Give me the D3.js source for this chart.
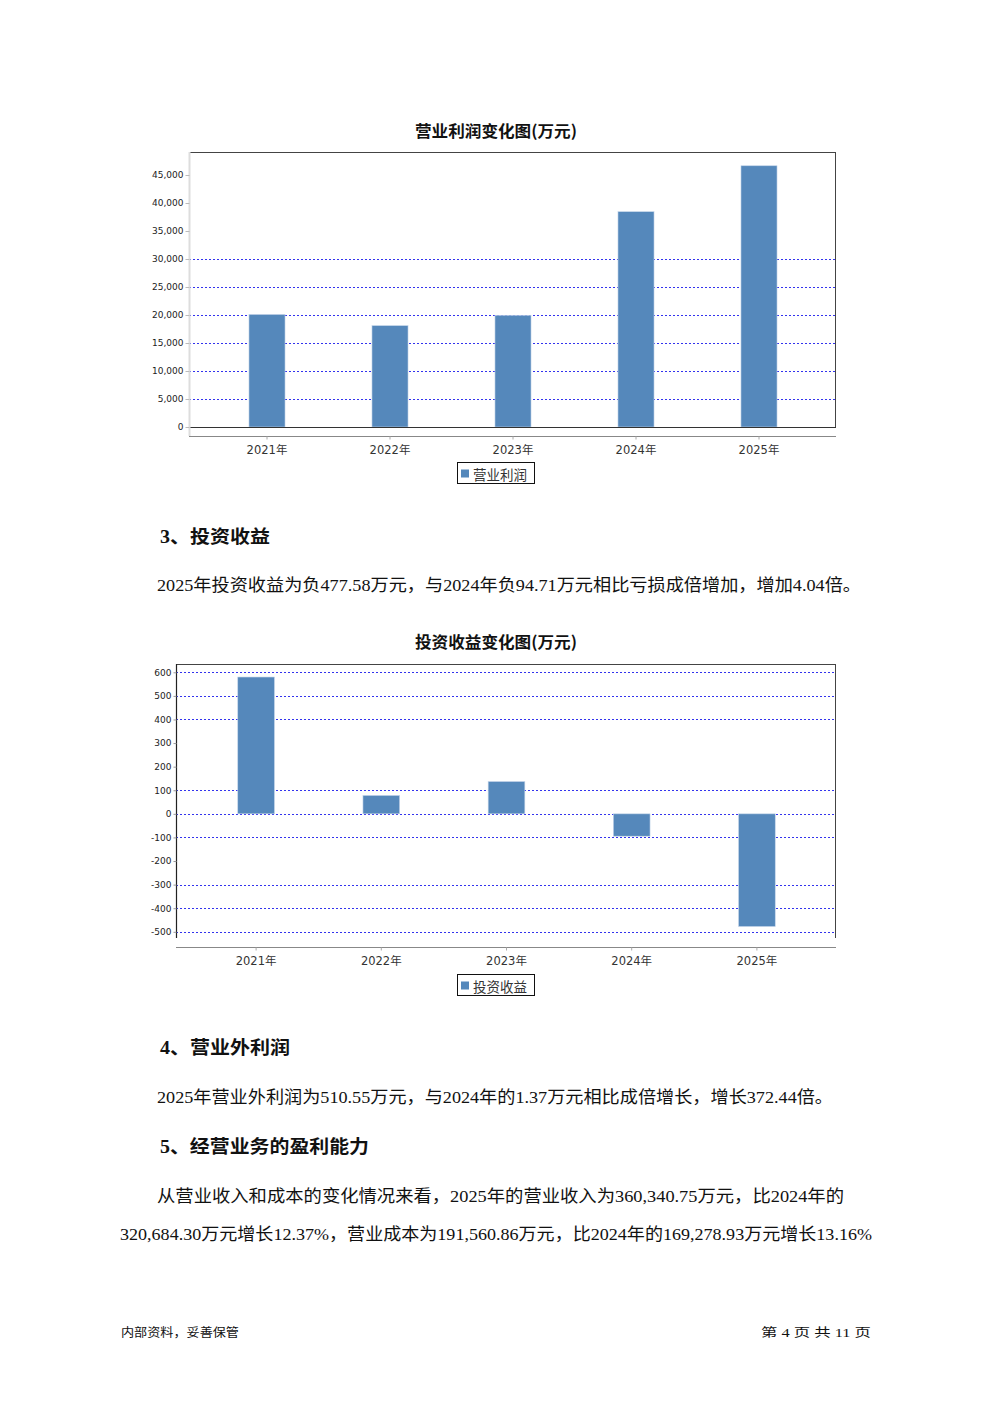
<!DOCTYPE html>
<html><head><meta charset="utf-8">
<script src="https://cdn.jsdelivr.net/npm/d3@7"></script>
<style>body{margin:0;background:#fff}svg{display:block}</style>
</head><body>
<script>
// ---- data ----
const years = ["2021年","2022年","2023年","2024年","2025年"];
const opProfit = [20100, 18100, 19950, 38450, 46650];
const opTicks = [0,5000,10000,15000,20000,25000,30000,35000,40000,45000];
const opGrid = [5000,10000,15000,20000,25000,30000];
const invIncome = [580, 78, 137, -94.71, -477.58];
const invTicks = [600,500,400,300,200,100,0,-100,-200,-300,-400,-500];
const invGrid = [600,500,400,100,0,-100,-300,-400,-500];
const chart1Title = "营业利润变化图(万元)";
const chart2Title = "投资收益变化图(万元)";
const legend1 = "营业利润";
const legend2 = "投资收益";

const W = 992, H = 1403;
const svg = d3.select("body").append("svg").attr("width", W).attr("height", H);
const barColor = "#5588bb";
const sansF = "'DejaVu Sans', 'Noto Sans CJK SC', sans-serif";
const cjkF = "'Noto Sans CJK SC', sans-serif";
const bodyF = "'Liberation Serif', 'Noto Sans CJK SC', serif";

function title(t, cx, cy){
  svg.append("text").attr("x", cx-81).attr("y", cy)
    .attr("dominant-baseline","central").attr("font-family", cjkF)
    .attr("font-weight","bold").attr("font-size",16).attr("fill","#111")
    .attr("textLength",162).attr("lengthAdjust","spacingAndGlyphs").text(t);
}
function legend(t, x, y){
  const g = svg.append("g");
  g.append("rect").attr("x",x+0.5).attr("y",y+0.5).attr("width",77).attr("height",21)
    .attr("fill","#fff").attr("stroke","#111").attr("stroke-width",1);
  g.append("rect").attr("x",x+4).attr("y",y+7.5).attr("width",8).attr("height",8).attr("fill",barColor);
  g.append("text").attr("x",x+16).attr("y",y+11.5).attr("dominant-baseline","central")
    .attr("font-family",cjkF).attr("font-size",13.5).attr("fill","#333").text(t);
}
const fmtHy = f => d => f(d).replace("−","-");

// ---- chart 1 ----
{
  const L=189, R=836, T=152, B=427;
  const y = d3.scaleLinear().domain([0, 45000]).range([B, 175]);
  const x = d3.scaleBand().domain(years).range([205.5, 820.5]).paddingInner(0.707).paddingOuter(0.3535);
  title(chart1Title, 496, 130);
  const g = svg.append("g");
  g.selectAll(".grid").data(opGrid).join("line")
    .attr("x1",L).attr("x2",R).attr("y1",d=>Math.round(y(d))+0.5).attr("y2",d=>Math.round(y(d))+0.5)
    .attr("stroke","#3333ee").attr("stroke-width",1).attr("stroke-dasharray","2,2");
  g.selectAll(".bar").data(opProfit).join("rect")
    .attr("x",(d,i)=>x(years[i])).attr("width",x.bandwidth())
    .attr("y",d=>y(d)).attr("height",d=>y(0)-y(d)).attr("fill",barColor)
    .attr("stroke","#c5d5ea").attr("stroke-width",0.6);
  g.append("line").attr("x1",L).attr("x2",R).attr("y1",T+0.5).attr("y2",T+0.5).attr("stroke","#444");
  g.append("line").attr("x1",R-0.5).attr("x2",R-0.5).attr("y1",T).attr("y2",B).attr("stroke","#444");
  g.append("line").attr("x1",L).attr("x2",R).attr("y1",B+0.5).attr("y2",B+0.5).attr("stroke","#333");
  const ya = svg.append("g").attr("transform",`translate(${L+0.5},0)`)
    .call(d3.axisLeft(y).tickValues(opTicks).tickFormat(d3.format(",")).tickSize(4).tickPadding(2));
  ya.select(".domain").attr("stroke","#dddddd").attr("stroke-width",2).attr("d",`M0,${T}V436`);
  ya.selectAll(".tick line").attr("stroke","#bbbbbb");
  ya.selectAll("text").attr("font-family",sansF).attr("font-size",9).attr("fill","#222");
  const xa = svg.append("g").attr("transform",`translate(0,436.5)`)
    .call(d3.axisBottom(x).tickSize(3).tickPadding(6));
  xa.select(".domain").attr("stroke","#888").attr("d",`M${L},0H${R}`);
  xa.selectAll(".tick line").attr("stroke","#aaa");
  xa.selectAll("text").attr("font-family",sansF).attr("font-size",11.5).attr("fill","#333");
  legend(legend1, 457, 462);
}

// ---- chart 2 ----
{
  const L=176, R=836, T=664, B=938;
  const y = d3.scaleLinear().domain([-500, 600]).range([931.8, 672.3]);
  const x = d3.scaleBand().domain(years).range([193.5, 819.5]).paddingInner(0.707).paddingOuter(0.3535);
  title(chart2Title, 496, 641);
  const g = svg.append("g");
  g.selectAll(".grid").data(invGrid).join("line")
    .attr("x1",L).attr("x2",R).attr("y1",d=>Math.round(y(d))+0.5).attr("y2",d=>Math.round(y(d))+0.5)
    .attr("stroke","#3333ee").attr("stroke-width",1).attr("stroke-dasharray","2,2");
  g.selectAll(".bar").data(invIncome).join("rect")
    .attr("x",(d,i)=>x(years[i])).attr("width",x.bandwidth())
    .attr("y",d=>Math.min(y(d),y(0))).attr("height",d=>Math.abs(y(0)-y(d))).attr("fill",barColor)
    .attr("stroke","#c5d5ea").attr("stroke-width",0.6);
  g.append("line").attr("x1",L).attr("x2",R).attr("y1",T+0.5).attr("y2",T+0.5).attr("stroke","#444");
  g.append("line").attr("x1",R-0.5).attr("x2",R-0.5).attr("y1",T).attr("y2",B).attr("stroke","#444");
  const ya = svg.append("g").attr("transform",`translate(${L+0.5},0)`)
    .call(d3.axisLeft(y).tickValues(invTicks).tickFormat(fmtHy(d3.format("d"))).tickSize(3).tickPadding(2));
  ya.select(".domain").attr("stroke","#222").attr("stroke-width",1.2).attr("d",`M0,${T}V${B}`);
  ya.selectAll(".tick line").attr("stroke","#999");
  ya.selectAll("text").attr("font-family",sansF).attr("font-size",9).attr("fill","#222");
  const xa = svg.append("g").attr("transform",`translate(0,947.5)`)
    .call(d3.axisBottom(x).tickSize(3).tickPadding(6));
  xa.select(".domain").attr("stroke","#888").attr("d",`M${L},0H${R}`);
  xa.selectAll(".tick line").attr("stroke","#aaa");
  xa.selectAll("text").attr("font-family",sansF).attr("font-size",11.5).attr("fill","#333");
  legend(legend2, 457, 974);
}

// ---- document text ----
function heading(t, x, yc, w){
  svg.append("text").attr("x",x).attr("y",yc).attr("dominant-baseline","central")
    .attr("font-family",bodyF).attr("font-weight","bold").attr("font-size",18)
    .attr("fill","#111").attr("textLength",w).attr("lengthAdjust","spacingAndGlyphs").text(t);
}
function body(t, x, yc, w){
  svg.append("text").attr("x",x).attr("y",yc).attr("dominant-baseline","central")
    .attr("font-family",bodyF).attr("font-size",17).attr("fill","#111")
    .attr("textLength",w).attr("lengthAdjust","spacingAndGlyphs").text(t);
}
heading("3、投资收益", 160, 537, 110);
body("2025年投资收益为负477.58万元，与2024年负94.71万元相比亏损成倍增加，增加4.04倍。", 157, 585, 704);
heading("4、营业外利润", 160, 1048, 130);
body("2025年营业外利润为510.55万元，与2024年的1.37万元相比成倍增长，增长372.44倍。", 157, 1097, 676);
heading("5、经营业务的盈利能力", 160, 1147, 209);
body("从营业收入和成本的变化情况来看，2025年的营业收入为360,340.75万元，比2024年的", 157, 1196, 687);
body("320,684.30万元增长12.37%，营业成本为191,560.86万元，比2024年的169,278.93万元增长13.16%", 120, 1234, 752);

svg.append("text").attr("x",121).attr("y",1333).attr("dominant-baseline","central")
  .attr("font-family",bodyF).attr("font-size",12).attr("fill","#111")
  .attr("textLength",118).attr("lengthAdjust","spacingAndGlyphs").text("内部资料，妥善保管");
svg.append("text").attr("x",761).attr("y",1333).attr("dominant-baseline","central")
  .attr("font-family",bodyF).attr("font-size",12).attr("fill","#111")
  .attr("textLength",110).attr("lengthAdjust","spacingAndGlyphs").text("第 4 页  共 11 页");
</script>
</body></html>
